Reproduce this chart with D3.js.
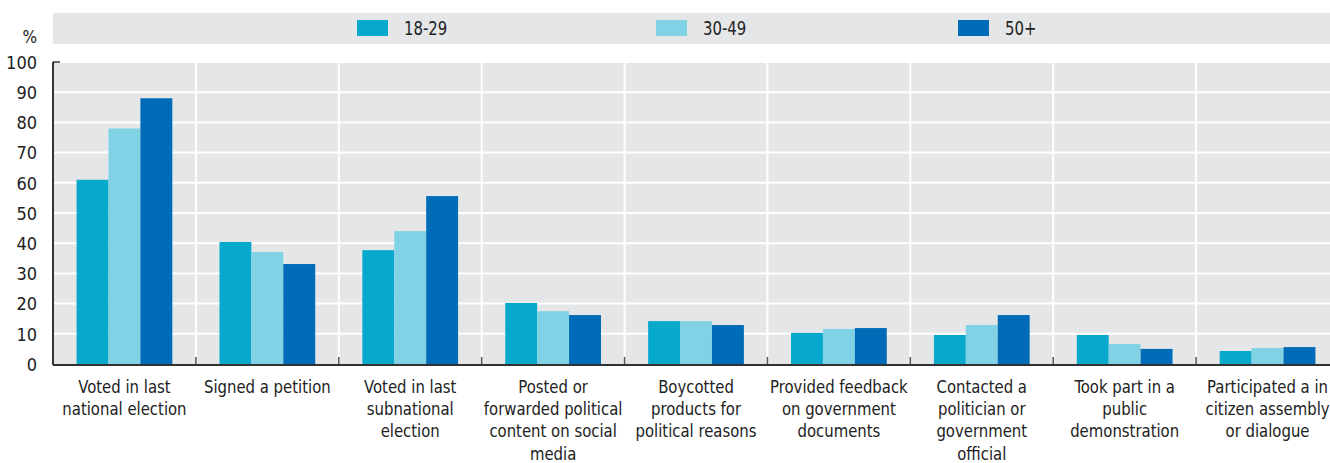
<!DOCTYPE html>
<html>
<head>
<meta charset="utf-8">
<script src="https://cdn.jsdelivr.net/npm/d3@7"></script>
<style>
  html, body { margin: 0; padding: 0; background: #fff; }
  svg { display: block; }
  text { font-family: "Liberation Sans Narrow", "DejaVu Sans Condensed", "Arial Narrow", sans-serif; fill: #222; }
</style>
</head>
<body>
<svg id="chart" width="1330" height="463"></svg>
<script>
const categories = [
  "Voted in last\nnational election",
  "Signed a petition",
  "Voted in last\nsubnational\nelection",
  "Posted or\nforwarded political\ncontent on social\nmedia",
  "Boycotted\nproducts for\npolitical reasons",
  "Provided feedback\non government\ndocuments",
  "Contacted a\npolitician or\ngovernment\nofficial",
  "Took part in a\npublic\ndemonstration",
  "Participated a in\ncitizen assembly\nor dialogue"
];
const seriesNames = ["18-29", "30-49", "50+"];
const values1829 = [61, 40.4, 37.7, 20.2, 14.2, 10.3, 9.6, 9.6, 4.3];
const values3049 = [78, 37.1, 44.0, 17.5, 14.2, 11.6, 12.9, 6.6, 5.3];
const values50 = [88, 33.1, 55.6, 16.2, 12.9, 11.9, 16.2, 5.0, 5.6];
const yTicks = [0, 10, 20, 30, 40, 50, 60, 70, 80, 90, 100];
const colors = ["#06a9cc", "#82d2e5", "#006bb6"];

const seriesValues = [values1829, values3049, values50];

const svg = d3.select("#chart");
const pLeft = 53, pRight = 1339, pTop = 62, pBottom = 364;
const squeeze = 0.92;

const x = d3.scaleBand().domain(categories).range([pLeft, pRight]).paddingInner(0.33).paddingOuter(0.165);
const xs = d3.scaleBand().domain(seriesNames).range([0, x.bandwidth()]);
const y = d3.scaleLinear().domain([0, 100]).range([pBottom, pTop]);

// legend background
svg.append("rect").attr("x", pLeft).attr("y", 13).attr("width", 1330 - pLeft).attr("height", 31).attr("fill", "#e5e6e8");
const legendX = [357, 656, 958];
seriesNames.forEach((s, i) => {
  svg.append("rect").attr("x", legendX[i]).attr("y", 20).attr("width", 31).attr("height", 16).attr("fill", colors[i]);
  svg.append("text").attr("transform", `translate(${legendX[i] + 47},35) scale(${squeeze},1.05)`)
    .attr("font-size", 18).text(s);
});

// plot background
svg.append("rect").attr("x", pLeft).attr("y", pTop).attr("width", pRight - pLeft).attr("height", pBottom - pTop).attr("fill", "#e5e6e8");

// horizontal gridlines
svg.append("g").selectAll("line").data(yTicks.filter(d => d > 0)).join("line")
  .attr("x1", pLeft).attr("x2", pRight)
  .attr("y1", d => y(d)).attr("y2", d => y(d))
  .attr("stroke", "#fff").attr("stroke-width", 2);

// vertical gridlines at group boundaries
const boundaries = categories.slice(1).map(c => x(c) - x.step() * x.paddingInner() / 2);
svg.append("g").selectAll("line").data(boundaries).join("line")
  .attr("x1", d => d).attr("x2", d => d)
  .attr("y1", pTop).attr("y2", pBottom)
  .attr("stroke", "#fff").attr("stroke-width", 2);

// bars
seriesNames.forEach((s, si) => {
  svg.append("g").selectAll("rect").data(categories).join("rect")
    .attr("x", (c) => x(c) + xs(s))
    .attr("width", xs.bandwidth())
    .attr("y", (c, i) => y(seriesValues[si][i]))
    .attr("height", (c, i) => y(0) - y(seriesValues[si][i]))
    .attr("fill", colors[si]);
});

// y axis
const yAxis = d3.axisLeft(y).tickValues(yTicks).tickSize(0).tickPadding(16);
const yg = svg.append("g").attr("transform", `translate(${pLeft},0)`).call(yAxis);
yg.select(".domain").remove();
yg.selectAll("text").attr("font-size", 18).style("fill", "#222").attr("dy", "0.35em")
  .style("font-family", '"Liberation Sans Narrow", "DejaVu Sans Condensed", sans-serif');
svg.append("line").attr("x1", pLeft).attr("x2", pLeft).attr("y1", pTop).attr("y2", pBottom + 1)
  .attr("stroke", "#333").attr("stroke-width", 2);
svg.append("line").attr("x1", pLeft).attr("x2", pLeft + 7).attr("y1", pTop).attr("y2", pTop)
  .attr("stroke", "#333").attr("stroke-width", 1.5);

svg.append("text").attr("x", 37).attr("y", 43).attr("text-anchor", "end").attr("font-size", 17).text("%");

// x axis line and ticks
svg.append("line").attr("x1", pLeft).attr("x2", pRight).attr("y1", pBottom + 1).attr("y2", pBottom + 1)
  .attr("stroke", "#333").attr("stroke-width", 2);
svg.append("g").selectAll("line").data(boundaries).join("line")
  .attr("x1", d => d).attr("x2", d => d)
  .attr("y1", pBottom - 7).attr("y2", pBottom)
  .attr("stroke", "#555").attr("stroke-width", 1.5);

// category labels
const lab = svg.append("g").selectAll("text").data(categories).join("text")
  .attr("text-anchor", "middle")
  .attr("font-size", 18)
  .attr("transform", c => `translate(${x(c) + x.bandwidth() / 2},0) scale(${squeeze},1)`);
lab.each(function(c) {
  const lines = c.split("\n");
  d3.select(this).selectAll("tspan").data(lines).join("tspan")
    .attr("x", 0).attr("y", (d, i) => 393 + i * 22.2).text(d => d);
});
</script>
</body>
</html>
